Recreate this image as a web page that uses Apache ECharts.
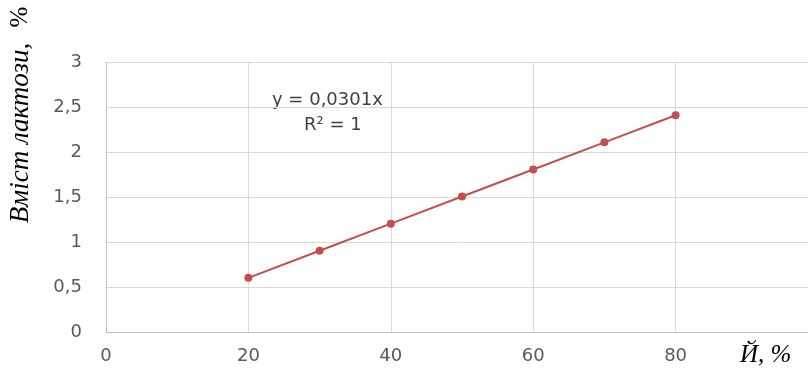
<!DOCTYPE html>
<html>
<head>
<meta charset="utf-8">
<script src="https://cdn.jsdelivr.net/npm/echarts@6/dist/echarts.min.js"></script>
<style>
html, body { margin: 0; padding: 0; background: #fff; }
#main { width: 808px; height: 373px; }
</style>
</head>
<body>
<div id="main"></div>
<script>
// дані
var xValues = [20, 30, 40, 50, 60, 70, 80];
var yValues = [0.602, 0.903, 1.204, 1.505, 1.806, 2.107, 2.408];
var xTicks = [0, 20, 40, 60, 80];
var yTicks = [0, 0.5, 1, 1.5, 2, 2.5, 3];

var points = [];
for (var i = 0; i < xValues.length; i++) {
    points.push([xValues[i], yValues[i]]);
}

function fmt(v) {
    return String(v).replace('.', ',');
}

var myChart = echarts.init(document.getElementById('main'));
var option = {
    animation: false,
    grid: { left: 106, top: 62, width: 712, height: 270, outerBoundsMode: 'none', containLabel: false },
    xAxis: {
        type: 'value',
        min: 0, max: 100, interval: 20,
        axisLine: { show: true, lineStyle: { color: '#bfbfbf' } },
        axisTick: { show: false },
        splitLine: { lineStyle: { color: '#d9d9d9' } },
        axisLabel: {
            color: '#595959', fontSize: 18, fontFamily: 'DejaVu Sans', margin: 15,
            formatter: function (v) { return xTicks.indexOf(v) >= 0 ? fmt(v) : ''; }
        }
    },
    yAxis: {
        type: 'value',
        min: 0, max: 3, interval: 0.5,
        axisLine: { show: true, lineStyle: { color: '#bfbfbf' } },
        axisTick: { show: false },
        splitLine: { lineStyle: { color: '#d9d9d9' } },
        axisLabel: {
            color: '#595959', fontSize: 18, fontFamily: 'DejaVu Sans', margin: 24,
            formatter: function (v) { return yTicks.indexOf(v) >= 0 ? fmt(v) : ''; }
        }
    },
    graphic: [
        {
            type: 'text', left: 272, top: 91,
            style: { text: 'y = 0,0301x', fill: '#404040', font: '18px "DejaVu Sans"' }
        },
        {
            type: 'text', left: 304, top: 116,
            style: { text: 'R² = 1', fill: '#404040', font: '18px "DejaVu Sans"' }
        },
        {
            type: 'text', left: 740, top: 343,
            style: { text: 'Й, %', fill: '#000', font: 'italic 25px "Liberation Serif"' }
        },
        {
            type: 'text', x: 21, y: 133, rotation: Math.PI / 2,
            style: {
                text: 'Вміст лактози,', fill: '#000',
                font: 'italic 27px "Liberation Serif"',
                align: 'center', verticalAlign: 'middle'
            }
        },
        {
            type: 'text', x: 20, y: 17, rotation: Math.PI / 2,
            style: {
                text: '%', fill: '#000',
                font: '25px "Liberation Serif"',
                align: 'center', verticalAlign: 'middle'
            }
        }
    ],
    series: [
        {
            type: 'line',
            data: points,
            color: '#C0504D',
            lineStyle: { width: 2, color: '#C0504D' },
            symbol: 'circle',
            symbolSize: 8,
            itemStyle: { color: '#C0504D' }
        }
    ]
};
myChart.setOption(option);
</script>
</body>
</html>
